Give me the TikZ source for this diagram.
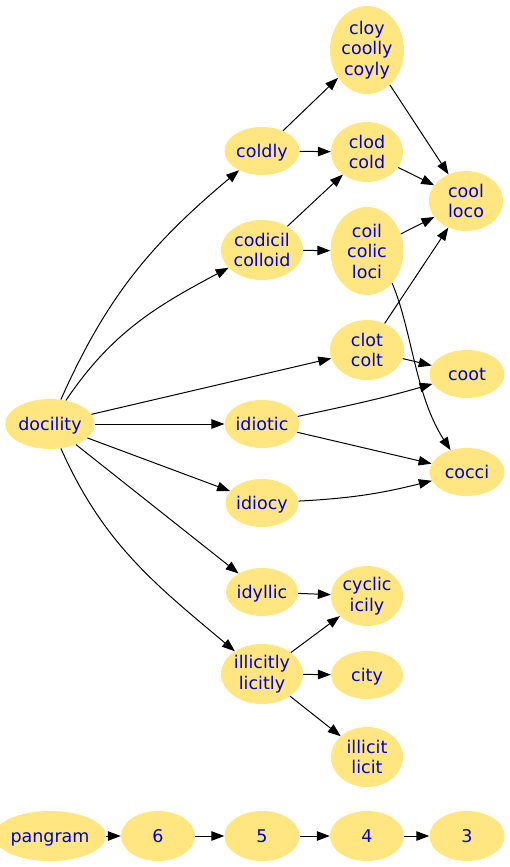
\documentclass[tikz,border=0pt]{standalone}
\usepackage{fontspec}
\setmainfont{DejaVu Sans}
\usetikzlibrary{shapes.geometric,arrows.meta}
\definecolor{nodefill}{HTML}{FFE680}
\definecolor{nodetext}{HTML}{0000CC}
\tikzset{
  nd/.style={ellipse, fill=nodefill, draw=none, inner sep=0pt, text=nodetext,
    font=\fontsize{17.5}{20.5}\selectfont, align=center},
  one/.style={text height=15pt, text depth=3pt},
  sm/.style={nd, one, minimum width=72pt, minimum height=48pt},
  md/.style={nd, minimum width=72pt, minimum height=60pt},
  lg/.style={nd, minimum width=73pt, minimum height=88pt},
  arr/.style={draw=black, line width=1pt, -{Triangle[length=13pt,width=9.5pt]}},
}
\begin{document}
\begin{tikzpicture}[x=1pt,y=-1pt]
\useasboundingbox (0,0) rectangle (510,867);
% nodes
\node[nd, one, minimum width=76pt, minimum height=50pt] (docility) at (50,424) {docility};
\node[sm, minimum width=75pt] (coldly) at (262,151) {coldly};
\node[md, minimum width=82pt] (codicil) at (262,250) {codicil\\colloid};
\node[md, minimum width=74pt] (clot) at (367,350) {clot\\colt};
\node[sm] (idiotic) at (262,424) {idiotic};
\node[sm] (idiocy) at (262,503) {idiocy};
\node[sm] (idyllic) at (262,592) {idyllic};
\node[md, minimum width=82pt] (illicitly) at (262,674) {illicitly\\licitly};
\node[lg, minimum width=74pt] (cloy) at (367,50) {cloy\\coolly\\coyly};
\node[md] (clod) at (367,152) {clod\\cold};
\node[lg] (coil) at (367,251) {coil\\colic\\loci};
\node[md, minimum width=74pt] (cool) at (466,201) {cool\\loco};
\node[sm, minimum width=75pt] (coot) at (467,374) {coot};
\node[sm, minimum width=75pt] (cocci) at (467,472) {cocci};
\node[md] (cyclic) at (367,596) {cyclic\\icily};
\node[sm] (city) at (367,675) {city};
\node[md] (illicit) at (367,757) {illicit\\licit};
\node[nd, one, minimum width=91pt, minimum height=50pt] (pangram) at (50,836) {pangram};
\node[nd, one, minimum width=74pt, minimum height=50pt] (n6) at (158,836) {6};
\node[nd, one, minimum width=75pt, minimum height=50pt] (n5) at (262,836) {5};
\node[nd, one, minimum width=74pt, minimum height=50pt] (n4) at (367,836) {4};
\node[nd, one, minimum width=75pt, minimum height=50pt] (n3) at (467,836) {3};
% edges from docility
\draw[arr] (docility) to[out=66, in=220] (coldly);
\draw[arr] (docility) to[out=56, in=208] (codicil);
\draw[arr] (docility) -- (clot);
\draw[arr] (docility) -- (idiotic);
\draw[arr] (docility) -- (idiocy);
\draw[arr] (docility) -- (idyllic);
\draw[arr] (docility) to[out=-66, in=140] (illicitly);
% second level
\draw[arr] (coldly) -- (cloy);
\draw[arr] (coldly) -- (clod);
\draw[arr] (codicil) -- (clod);
\draw[arr] (codicil) -- (coil);
\draw[arr] (cloy) -- (cool);
\draw[arr] (clod) -- (cool);
\draw[arr] (coil) -- (cool);
\draw[arr] (coil.-52) .. controls (412,330) and (415,395) .. (cocci.127);
\draw[arr] (clot) -- (cool);
\draw[arr] (clot) -- (coot);
\draw[arr] (idiotic) to[out=12, in=196] (coot);
\draw[arr] (idiotic) -- (cocci);
\draw[arr] (idiocy) to[out=3, in=194] (cocci);
\draw[arr] (idyllic) -- (cyclic);
\draw[arr] (illicitly) -- (cyclic);
\draw[arr] (illicitly) -- (city);
\draw[arr] (illicitly) -- (illicit);
% bottom chain
\draw[arr] (pangram) -- (n6);
\draw[arr] (n6) -- (n5);
\draw[arr] (n5) -- (n4);
\draw[arr] (n4) -- (n3);
\end{tikzpicture}
\end{document}
